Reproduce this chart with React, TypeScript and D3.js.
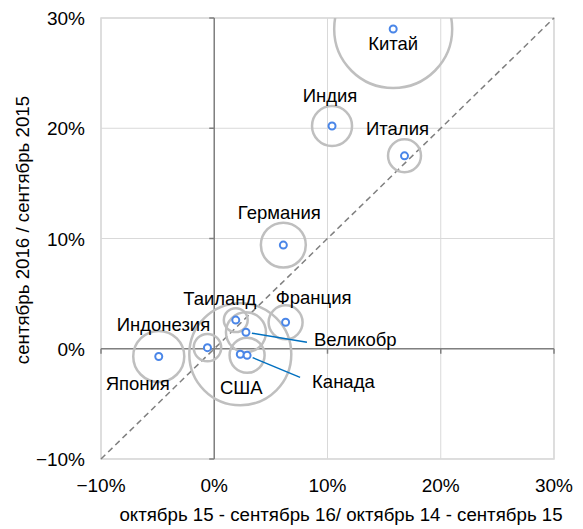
import React from "react";
import * as d3 from "d3";

// Countries, growth for two periods and bubble size
const countries = ["Китай", "Индия", "Италия", "Германия", "Франция", "Таиланд", "Великобр", "США", "Канада", "Индонезия", "Япония"];
const growthPrev = [0.158, 0.104, 0.168, 0.061, 0.063, 0.019, 0.028, 0.023, 0.029, -0.006, -0.049];
const growthCurr = [0.29, 0.202, 0.175, 0.094, 0.024, 0.026, 0.015, -0.005, -0.006, 0.001, -0.007];
const bubbleSize = [100, 11.5, 7.8, 14.5, 8.3, 4.1, 11.5, 74.7, 8.8, 5.4, 18.7];
const ticks = [-0.1, 0, 0.1, 0.2, 0.3];

// label placement relative to the point: [dx, dy, anchor, leader end dx, leader end dy]
const labelPos: Record<string, [number, number, string, number?, number?]> = {
  "Китай": [0, 21, "middle"],
  "Индия": [-2, -24, "middle"],
  "Италия": [-7, -21, "middle"],
  "Германия": [-4, -26, "middle"],
  "Франция": [28, -18, "middle"],
  "Таиланд": [-16, -15, "middle"],
  "Великобр": [68, 14, "start", 61, 10],
  "США": [1, 40, "middle"],
  "Канада": [65, 33, "start", 53, 22],
  "Индонезия": [-44, -17, "middle"],
  "Япония": [-21, 34, "middle"],
};

const W = 583;
const H = 529;
const font = "'Liberation Sans', Arial, sans-serif";

export default function App() {
  const x = d3.scaleLinear().domain([-0.1, 0.3]).range([101, 554]);
  const y = d3.scaleLinear().domain([-0.1, 0.3]).range([459, 18]);
  const r = d3.scaleSqrt().domain([0, 100]).range([0, 59]);
  const fmt = d3.format(".0%");

  const pts = countries.map((c, i) => ({
    name: c,
    cx: x(growthPrev[i]),
    cy: y(growthCurr[i]),
    r: r(bubbleSize[i]),
  }));

  return (
    <svg width={W} height={H} style={{ position: "absolute", left: 0, top: 0, fontFamily: font }}>
      <defs>
        <clipPath id="plot">
          <rect x={x(-0.1)} y={y(0.3)} width={x(0.3) - x(-0.1)} height={y(-0.1) - y(0.3)} />
        </clipPath>
      </defs>
      {/* grid */}
      {ticks.map((t) => (
        <g key={t}>
          <line x1={x(t)} x2={x(t)} y1={y(0.3)} y2={y(-0.1)} stroke="#d9d9d9" strokeWidth={1} />
          <line x1={x(-0.1)} x2={x(0.3)} y1={y(t)} y2={y(t)} stroke="#d9d9d9" strokeWidth={1} />
        </g>
      ))}
      <rect x={x(-0.1)} y={y(0.3)} width={x(0.3) - x(-0.1)} height={y(-0.1) - y(0.3)} fill="none" stroke="#d9d9d9" strokeWidth={1.5} />

      {/* zero axes with outside ticks */}
      <line x1={x(0)} x2={x(0)} y1={y(0.3)} y2={y(-0.1)} stroke="#808080" strokeWidth={1.5} />
      <line x1={x(-0.1)} x2={x(0.3)} y1={y(0)} y2={y(0)} stroke="#808080" strokeWidth={1.5} />
      {ticks.map((t) => (
        <g key={"t" + t}>
          <line x1={x(0) - 5} x2={x(0)} y1={y(t)} y2={y(t)} stroke="#808080" strokeWidth={1.5} />
          <line x1={x(t)} x2={x(t)} y1={y(0)} y2={y(0) + 5} stroke="#808080" strokeWidth={1.5} />
        </g>
      ))}

      {/* diagonal */}
      <line x1={x(-0.1)} y1={y(-0.1)} x2={x(0.3)} y2={y(0.3)} stroke="#7f7f7f" strokeWidth={1.5} strokeDasharray="6,4" />

      {/* bubbles */}
      <g clipPath="url(#plot)">
        {pts.map((p) => (
          <circle key={"b" + p.name} cx={p.cx} cy={p.cy} r={p.r} fill="none" stroke="#bfbfbf" strokeWidth={2.5} />
        ))}
      </g>

      {/* leader lines */}
      {pts.filter((p) => labelPos[p.name][3] !== undefined).map((p) => {
        const lp = labelPos[p.name];
        const ex = lp[3] as number;
        const ey = lp[4] as number;
        const len = Math.hypot(ex, ey);
        return (
          <line key={"l" + p.name} x1={p.cx + (ex / len) * 6} y1={p.cy + (ey / len) * 6} x2={p.cx + ex} y2={p.cy + ey} stroke="#0070c0" strokeWidth={1.5} />
        );
      })}

      {/* points */}
      {pts.map((p) => (
        <circle key={"p" + p.name} cx={p.cx} cy={p.cy} r={3.5} fill="#fff" stroke="#4a86e8" strokeWidth={2} />
      ))}

      {/* labels */}
      {pts.map((p) => {
        const [dx, dy, anchor] = labelPos[p.name];
        return (
          <text key={"n" + p.name} x={p.cx + dx} y={p.cy + dy} textAnchor={anchor as any} fontSize={18.5} fill="#000">
            {p.name}
          </text>
        );
      })}

      {/* tick labels */}
      {ticks.map((t) => (
        <g key={"tl" + t}>
          <text x={85} y={y(t) + 7} textAnchor="end" fontSize={19} fill="#000">{fmt(t)}</text>
          <text x={x(t)} y={492} textAnchor="middle" fontSize={19} fill="#000">{fmt(t)}</text>
        </g>
      ))}

      {/* axis titles */}
      <text x={341} y={521} textAnchor="middle" fontSize={18.7} fill="#000">
        октябрь 15 - сентябрь 16/ октябрь 14 - сентябрь 15
      </text>
      <text transform="translate(29,230) rotate(-90)" textAnchor="middle" fontSize={18.7} fill="#000">
        сентябрь 2016 / сентябрь 2015
      </text>
    </svg>
  );
}
